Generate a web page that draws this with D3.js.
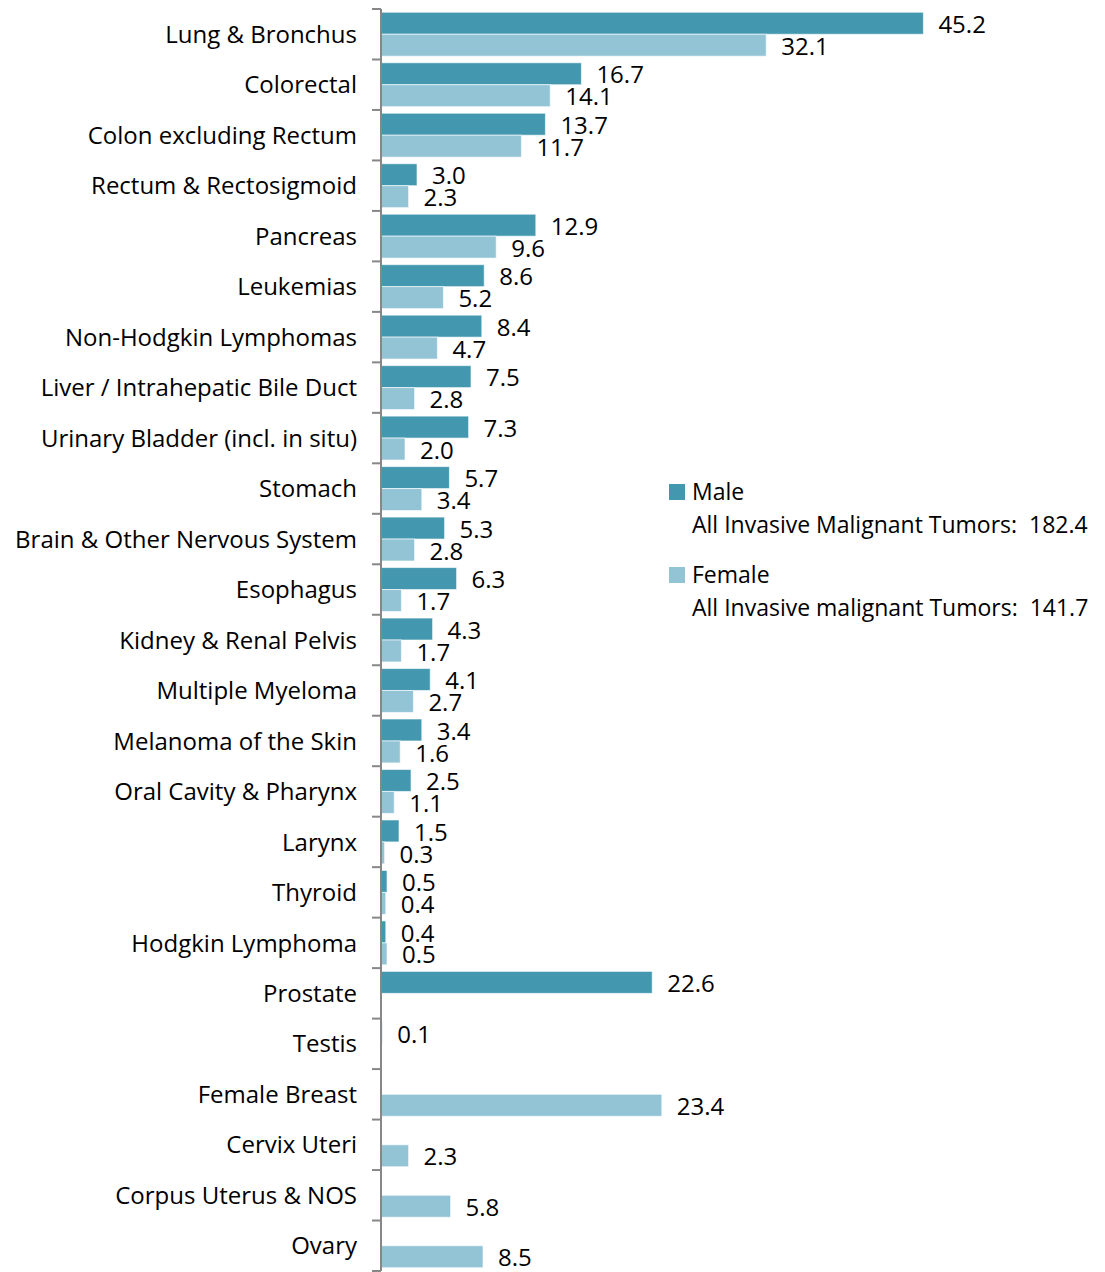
<!DOCTYPE html>
<html>
<head>
<meta charset="utf-8">
<script src="https://cdn.jsdelivr.net/npm/d3@7"></script>
<style>
  body { margin: 0; background: #fff; }
  text { font-family: "Open Sans", Lato, sans-serif; fill: #000; white-space: pre; }
</style>
</head>
<body>
<div id="chart"></div>
<script>
// categories and values (rate per 100,000)
var sites = ["Lung & Bronchus", "Colorectal", "Colon excluding Rectum", "Rectum & Rectosigmoid",
    "Pancreas", "Leukemias", "Non-Hodgkin Lymphomas", "Liver / Intrahepatic Bile Duct",
    "Urinary Bladder (incl. in situ)", "Stomach", "Brain & Other Nervous System", "Esophagus",
    "Kidney & Renal Pelvis", "Multiple Myeloma", "Melanoma of the Skin", "Oral Cavity & Pharynx",
    "Larynx", "Thyroid", "Hodgkin Lymphoma", "Prostate", "Testis", "Female Breast",
    "Cervix Uteri", "Corpus Uterus & NOS", "Ovary"];
var maleValues = [45.2, 16.7, 13.7, 3.0, 12.9, 8.6, 8.4, 7.5, 7.3, 5.7, 5.3, 6.3, 4.3, 4.1, 3.4,
    2.5, 1.5, 0.5, 0.4, 22.6, 0.1, null, null, null, null];
var femaleValues = [32.1, 14.1, 11.7, 2.3, 9.6, 5.2, 4.7, 2.8, 2.0, 3.4, 2.8, 1.7, 1.7, 2.7, 1.6,
    1.1, 0.3, 0.4, 0.5, null, null, 23.4, 2.3, 5.8, 8.5];
var seriesNames = ["Male", "Female"];
var seriesColors = ["#4398b0", "#93c4d6"];
var legendTotals = ["All Invasive Malignant Tumors:  182.4", "All Invasive malignant Tumors:  141.7"];

var width = 1105, height = 1272;
var svg = d3.select("#chart").append("svg")
    .attr("width", width)
    .attr("height", height);

var x = d3.scaleLinear().domain([0, 50]).range([381, 981]);
var y = d3.scaleBand().domain(sites).range([9, 1271]);
var sub = d3.scaleBand().domain(seriesNames).range([0, y.bandwidth()]).paddingOuter(0.15);

var rows = sites.map(function(s, i) {
    return {site: s, vals: [maleValues[i], femaleValues[i]]};
});

// bars
var group = svg.selectAll(".row")
    .data(rows)
    .enter().append("g")
    .attr("class", "row")
    .attr("transform", function(d) { return "translate(0," + y(d.site) + ")"; });

seriesNames.forEach(function(name, k) {
    var withVal = function(d) { return d.vals[k] != null; };
    group.filter(withVal).append("rect")
        .attr("x", x(0))
        .attr("y", sub(name))
        .attr("width", function(d) { return x(d.vals[k]) - x(0); })
        .attr("height", sub.bandwidth())
        .attr("fill", seriesColors[k])
        .attr("stroke", "#fff")
        .attr("stroke-opacity", 0.6)
        .attr("stroke-width", 1);
    group.filter(withVal).append("text")
        .attr("x", function(d) { return x(d.vals[k]) + 15; })
        .attr("y", sub(name) + sub.bandwidth() / 2 + 1)
        .attr("dy", "0.36em")
        .style("font-size", "24px")
        .text(function(d) { return d.vals[k].toFixed(1); });
});

// category axis
var axis = svg.append("g")
    .attr("transform", "translate(" + x(0) + ",0)");
axis.append("line")
    .attr("x1", 0).attr("x2", 0)
    .attr("y1", y.range()[0]).attr("y2", y.range()[1])
    .attr("stroke", "#878787").attr("stroke-width", 2);
axis.selectAll(".tick")
    .data(sites.concat(["end"]))
    .enter().append("line")
    .attr("x1", -9).attr("x2", 0)
    .attr("y1", function(d) { return d === "end" ? y.range()[1] : y(d); })
    .attr("y2", function(d) { return d === "end" ? y.range()[1] : y(d); })
    .attr("stroke", "#878787").attr("stroke-width", 2);
axis.selectAll(".label")
    .data(sites)
    .enter().append("text")
    .attr("x", -24)
    .attr("y", function(d) { return y(d) + y.bandwidth() / 2; })
    .attr("dy", "0.36em")
    .attr("text-anchor", "end")
    .style("font-size", "24px")
    .text(function(d) { return d; });

// legend
var legend = svg.selectAll(".legend")
    .data(seriesNames)
    .enter().append("g")
    .attr("transform", function(d, i) { return "translate(669," + (492 + i * 83) + ")"; });
legend.append("rect")
    .attr("x", 0).attr("y", -8)
    .attr("width", 16).attr("height", 16)
    .attr("fill", function(d, i) { return seriesColors[i]; });
legend.append("text")
    .attr("x", 23).attr("dy", "0.36em")
    .style("font-size", "23px")
    .text(function(d) { return d; });
legend.append("text")
    .attr("x", 23).attr("y", 33).attr("dy", "0.36em")
    .style("font-size", "23px")
    .text(function(d, i) { return legendTotals[i]; });
</script>
</body>
</html>
